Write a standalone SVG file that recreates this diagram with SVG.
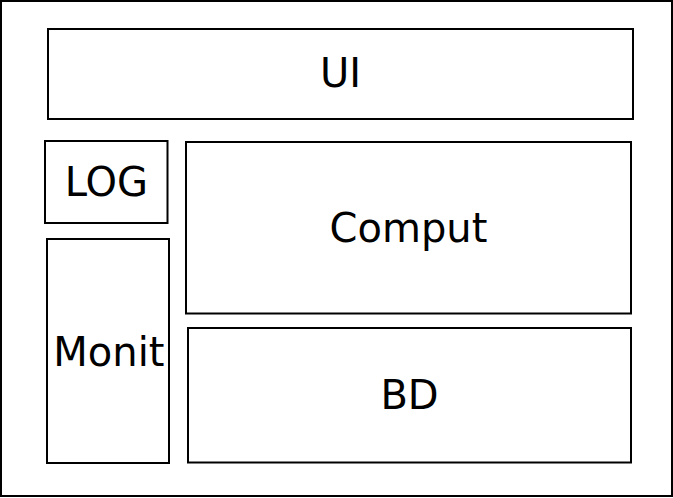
<svg xmlns="http://www.w3.org/2000/svg" width="673" height="498" viewBox="0 0 673 498">
<style>
.box{fill:#fff;stroke:#000;stroke-width:2}
.lbl{font-family:"DejaVu Sans",sans-serif;font-size:40px;fill:#000;text-anchor:middle}
</style>
<rect width="673" height="498" fill="#fff"/>
<g id="frame"><rect class="box" x="1" y="1" width="671" height="495"/></g>
<g id="ui"><rect class="box" x="48" y="29" width="585" height="90"/><text class="lbl" x="340.5" y="87">UI</text></g>
<g id="log"><rect class="box" x="45" y="141" width="122.5" height="82"/><text class="lbl" x="106.3" y="196">LOG</text></g>
<g id="comput"><rect class="box" x="186" y="142" width="445" height="171.5"/><text class="lbl" x="408.5" y="242.3">Comput</text></g>
<g id="monit"><rect class="box" x="47" y="239" width="122" height="224"/><text class="lbl" x="108.9" y="365.7">Monit</text></g>
<g id="bd"><rect class="box" x="188" y="328" width="443" height="134.5"/><text class="lbl" x="409.5" y="409">BD</text></g>
<g id="connectors"></g>
</svg>
